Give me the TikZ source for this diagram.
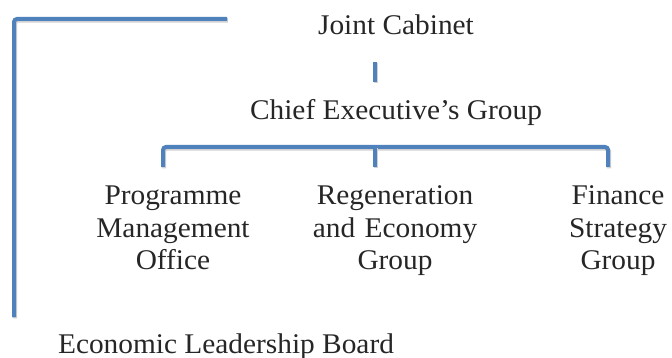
\documentclass[tikz,border=0pt]{standalone}
\usepackage{fontspec}
\setmainfont[FakeStretch=1.03]{Liberation Serif}
\begin{document}
\begin{tikzpicture}[x=1pt,y=-1pt,
  lbl/.style={font=\fontsize{28.5}{32.5}\selectfont, inner sep=0pt, outer sep=0pt, text=black!85},
  multi/.style={lbl, align=center, text width=180pt},
  conn/.style={draw=linkblue, line width=4pt, rounded corners=3pt,
    preaction={draw=black!18, line width=4.5pt, rounded corners=3pt, transform canvas={shift={(0.8pt,-1.4pt)}}}}]
\definecolor{linkblue}{HTML}{4F81BD}
\useasboundingbox (0,0) rectangle (672,358);
% labels
\node[lbl, anchor=base] (jc) at (396,35) {Joint Cabinet};
\node[lbl, anchor=base] (ceg) at (396,120) {Chief Executive’s Group};
\node[multi, anchor=base] (pmo) at (173,205) {Programme\\Management\\Office};
\node[multi, anchor=base] (reg) at (395,205) {Regeneration\\and Economy\\Group};
\node[multi, anchor=base] (fsg) at (618,205) {Finance\\Strategy\\Group};
\node[lbl, anchor=base] (elb) at (226,353) {Economic Leadership Board};
% connector end points
\coordinate (lT) at (227,19);
\coordinate (lB) at (14,317);
\coordinate (jcS) at (375,62);
\coordinate (cegN) at (375,82);
\coordinate (bL) at (163,167);
\coordinate (bR) at (608,147);
\coordinate (bRd) at (608,167);
\coordinate (bM) at (375,147);
\coordinate (bMd) at (375,167);
% connectors
\path[conn] (lT) -| (lB);
\path[conn] (jcS) -- (cegN);
\path[conn] (bL) |- (bR) -- (bRd);
\path[conn] (bM) -- (bMd);
\end{tikzpicture}
\end{document}
